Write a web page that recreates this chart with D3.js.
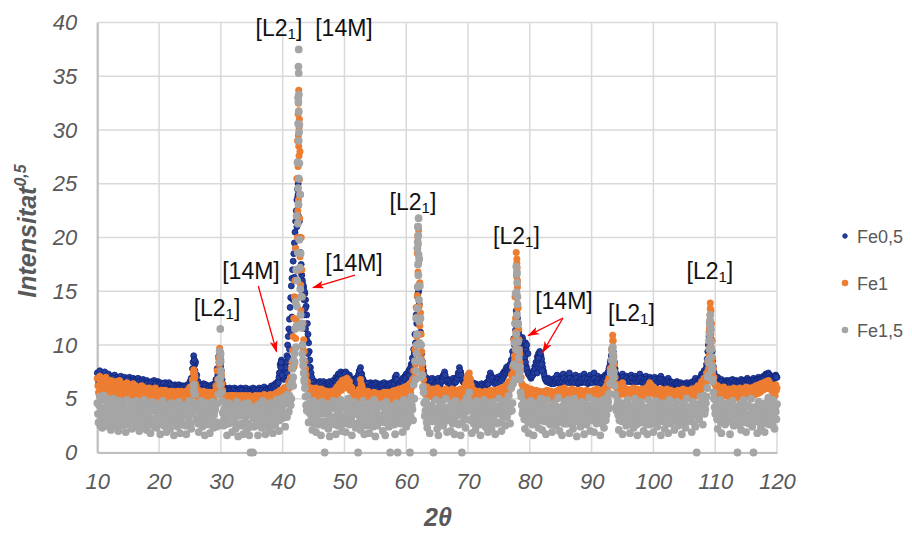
<!DOCTYPE html>
<html>
<head>
<meta charset="utf-8">
<script src="https://cdn.jsdelivr.net/npm/d3@7"></script>
<style>
  body { margin: 0; background: #fff; }
  svg { display: block; }
</style>
</head>
<body>
<svg id="chart" width="912" height="534"></svg>
<script>
// ---- axis ticks ----
const xTicks = [10, 20, 30, 40, 50, 60, 70, 80, 90, 100, 110, 120];
const yTicks = [0, 5, 10, 15, 20, 25, 30, 35, 40];
const seriesNames = ["Fe0,5", "Fe1", "Fe1,5"];

// ---- scan values (square root of intensity) ----
// "A" rows: 2θ = 10.0, 10.2, ... one row per 2°; "B" rows: the in-between steps 10.1, 10.3, ...
const fe05RowsA = [
  [7.4,6.4,7.6,6.9,6.1,7.2,7.5,6.6,7.0,7.3],
  [6.5,7.1,6.8,6.0,7.2,6.7,7.0,6.3,6.9,7.1],
  [6.8,6.2,7.0,6.6,5.9,6.9,7.0,6.4,6.7,6.9],
  [6.3,6.8,6.6,6.9,6.0,6.7,6.4,6.8,5.9,6.6],
  [6.7,6.2,6.5,5.8,6.6,6.4,6.7,6.0,6.3,6.6],
  [6.1,6.5,6.3,5.7,6.4,6.5,5.9,6.3,6.5,6.0],
  [6.3,5.8,6.2,6.3,5.6,6.1,6.3,5.9,6.2,5.7],
  [6.2,6.0,5.6,6.3,6.1,6.6,6.9,7.8,9.0,8.2],
  [6.9,6.4,6.0,6.3,5.8,6.2,6.4,5.9,6.3,6.1],
  [5.8,6.2,6.0,6.3,5.7,6.4,6.8,7.8,8.9,9.2],
  [8.4,6.8,6.1,5.8,6.0,5.6,5.9,6.0,5.5,5.9],
  [5.7,6.0,5.4,5.9,5.8,5.5,6.0,5.6,5.9,5.7],
  [6.0,5.5,5.8,5.9,5.4,5.8,6.0,5.6,5.9,5.7],
  [5.6,6.0,5.8,5.5,5.9,6.1,5.7,5.9,5.5,6.0],
  [5.9,6.2,5.8,6.1,6.4,6.0,6.6,7.0,8.2,8.6],
  [7.5,6.8,7.6,8.4,10.0,11.5,13.5,15.5,17.0,18.5],
  [20.5,22.5,24.5,23.0,20.0,17.5,16.0,15.4,14.8,13.6],
  [12.0,10.2,8.6,7.4,6.8,6.3,6.6,5.9,6.5,6.2],
  [6.6,6.0,6.4,6.6,5.8,6.3,6.5,6.1,6.6,6.4],
  [6.2,6.7,6.5,7.0,6.8,7.3,7.0,7.5,7.2,7.4],
  [7.1,7.5,7.3,6.9,7.2,6.6,6.8,6.3,6.5,6.9],
  [6.7,7.1,7.6,7.9,7.3,6.8,6.2,6.5,6.0,6.4],
  [6.3,6.5,5.9,6.4,6.2,6.5,6.0,6.4,6.3,5.9],
  [6.4,6.1,6.5,6.0,6.3,6.4,5.9,6.2,6.5,6.3],
  [6.6,7.0,7.2,6.5,6.2,6.6,6.4,6.9,6.7,7.1],
  [7.3,7.0,7.6,7.8,8.2,8.8,9.6,11.0,12.8,14.5],
  [15.0,12.5,10.0,8.5,7.6,7.0,6.7,6.9,6.4,6.8],
  [6.6,6.9,6.5,6.8,6.3,6.7,6.9,6.4,6.8,7.0],
  [7.2,7.5,6.9,6.6,6.8,6.3,6.7,6.5,6.9,6.6],
  [6.8,7.0,7.4,7.9,7.5,6.9,6.6,6.8,6.4,6.7],
  [6.5,6.9,6.6,6.3,6.5,6.1,6.4,6.0,6.3,6.2],
  [6.0,6.4,6.1,6.3,5.9,6.5,6.6,7.0,7.4,7.1],
  [6.8,6.5,6.9,6.6,7.0,6.7,7.1,6.8,7.3,7.5],
  [7.6,7.9,8.0,7.7,8.2,8.6,9.4,10.6,12.0,13.2],
  [12.5,11.2,10.4,10.2,10.7,9.8,8.8,8.0,7.6,7.3],
  [7.2,6.9,7.4,7.6,8.0,8.4,8.9,9.2,9.4,9.0],
  [8.3,7.6,7.0,6.8,6.6,6.9,6.5,6.8,6.4,6.7],
  [6.9,6.5,7.2,6.7,6.4,7.0,6.8,7.3,6.6,6.9],
  [7.1,6.6,7.4,6.9,6.5,7.0,6.7,7.2,6.8,6.4],
  [6.8,7.1,6.5,6.9,7.3,6.6,7.0,6.4,6.8,7.2],
  [6.6,7.0,7.4,6.8,6.5,7.1,6.7,6.9,6.4,7.0],
  [6.9,7.2,7.0,7.4,7.8,8.4,9.0,9.6,8.8,7.8],
  [7.2,6.8,7.1,6.7,7.0,7.3,6.9,6.6,7.1,6.8],
  [7.0,6.6,7.2,6.9,6.5,7.1,6.8,7.0,6.6,7.3],
  [6.9,6.5,7.0,6.7,7.1,6.8,6.6,7.0,6.7,6.9],
  [6.6,7.0,6.8,6.5,6.9,6.7,7.1,6.6,6.8,6.4],
  [6.7,6.5,6.9,6.3,6.6,6.4,6.2,6.5,6.3,6.6],
  [6.4,6.1,6.5,6.3,6.0,6.4,6.2,6.5,6.1,6.3],
  [6.5,6.2,6.6,6.4,6.9,6.3,6.7,6.5,7.0,7.3],
  [7.1,7.6,7.4,8.2,9.4,10.8,12.0,10.5,8.6,7.5],
  [6.9,6.5,7.0,6.6,6.4,6.8,6.5,6.2,6.6,6.7],
  [6.4,6.7,6.3,6.6,6.8,6.2,6.5,6.7,6.3,6.6],
  [6.5,6.8,6.4,6.7,6.3,6.6,6.9,6.5,6.7,6.4],
  [6.6,6.9,6.5,6.8,6.6,7.0,6.7,6.9,6.8,7.1],
  [7.0,7.3,7.1,7.4,7.2,6.9,7.1,6.8,7.0,7.2],
  [7.0]
];
const fe05RowsB = [
  [6.8,7.1,6.5,7.0,6.6,6.9,6.3,6.8,6.6,6.9],
  [6.9,6.4,6.7,6.9,6.3,6.6,6.8,6.5,6.7,6.4],
  [6.5,6.7,6.3,6.6,6.8,6.4,6.6,6.2,6.5,6.7],
  [6.6,6.3,6.5,6.2,6.6,6.4,6.1,6.5,6.3,6.4],
  [6.4,6.1,6.3,6.5,6.0,6.4,6.2,6.4,6.1,6.3],
  [6.3,6.0,6.2,6.4,6.1,6.0,6.3,6.1,6.2,6.3],
  [6.0,6.2,5.9,6.1,6.0,5.8,6.1,6.0,5.9,6.1],
  [5.9,6.1,5.8,6.0,6.2,6.3,6.6,7.0,8.6,8.4],
  [7.2,6.6,6.1,6.0,6.2,5.9,6.1,6.2,6.0,5.9],
  [6.0,5.8,6.1,5.9,6.1,6.0,6.3,7.2,8.4,9.0],
  [7.6,6.4,5.9,5.7,5.8,5.7,5.6,5.8,5.7,5.6],
  [5.8,5.6,5.7,5.5,5.7,5.8,5.6,5.8,5.5,5.7],
  [5.6,5.7,5.5,5.7,5.6,5.5,5.7,5.8,5.6,5.5],
  [5.8,5.6,5.7,5.8,5.6,5.7,5.8,5.6,5.8,5.7],
  [6.0,5.8,6.0,6.2,5.9,6.3,6.5,7.4,8.0,8.3],
  [7.0,7.2,7.9,9.0,10.8,12.4,14.4,16.2,17.8,19.5],
  [21.5,23.5,24.0,21.5,18.6,16.5,15.6,15.0,14.2,12.8],
  [11.0,9.4,7.9,7.0,6.5,6.2,6.0,6.3,6.1,6.4],
  [6.2,6.4,6.1,6.3,6.2,6.0,6.3,6.4,6.2,6.1],
  [6.4,6.2,6.6,6.5,6.8,6.9,7.2,6.9,7.1,6.8],
  [7.3,7.0,7.1,6.8,6.9,6.4,6.5,6.6,6.2,6.5],
  [6.8,7.3,7.6,7.2,6.9,6.5,6.3,6.2,6.4,6.1],
  [6.1,6.2,6.0,6.2,6.1,6.3,6.1,6.0,6.2,6.1],
  [6.2,6.0,6.3,6.1,6.0,6.2,6.1,6.3,6.0,6.2],
  [6.4,6.7,6.8,6.3,6.4,6.3,6.6,6.5,6.8,6.9],
  [7.1,7.3,7.2,7.6,8.0,8.4,9.2,10.2,12.0,14.8],
  [13.8,11.2,9.2,8.0,7.2,6.8,6.5,6.6,6.3,6.5],
  [6.5,6.6,6.3,6.5,6.4,6.5,6.6,6.3,6.6,6.7],
  [7.0,7.2,6.7,6.5,6.6,6.4,6.5,6.3,6.6,6.5],
  [6.6,6.9,7.2,7.6,7.2,6.7,6.5,6.6,6.3,6.5],
  [6.4,6.6,6.4,6.2,6.3,6.0,6.2,5.9,6.1,6.0],
  [6.1,6.2,6.0,6.1,6.0,6.3,6.4,6.8,7.1,6.9],
  [6.6,6.4,6.6,6.5,6.8,6.6,6.8,6.7,7.0,7.2],
  [7.4,7.6,7.7,7.6,7.9,8.2,9.0,10.0,11.4,13.0],
  [12.0,10.8,10.0,10.4,10.4,9.4,8.4,7.8,7.4,7.2],
  [7.0,7.1,7.2,7.4,7.8,8.2,8.6,9.0,9.2,8.7],
  [7.9,7.3,6.8,6.6,6.7,6.5,6.6,6.4,6.5,6.4],
  [6.6,6.7,6.8,6.5,6.6,6.8,6.6,6.9,6.5,6.7],
  [6.8,6.5,6.9,6.6,6.7,6.8,6.5,6.9,6.6,6.5],
  [6.6,6.8,6.6,6.7,6.9,6.5,6.8,6.5,6.6,6.8],
  [6.5,6.8,6.9,6.6,6.6,6.8,6.5,6.7,6.6,6.8],
  [6.8,7.0,7.1,7.5,8.0,8.6,9.2,9.4,8.4,7.4],
  [7.0,6.9,6.8,6.8,6.9,7.0,6.7,6.8,6.9,6.6],
  [6.8,6.7,6.9,6.6,6.8,6.8,6.6,6.8,6.7,6.9],
  [6.7,6.6,6.8,6.5,6.8,6.6,6.7,6.8,6.5,6.7],
  [6.7,6.8,6.5,6.7,6.6,6.8,6.7,6.5,6.6,6.5],
  [6.4,6.6,6.5,6.4,6.3,6.5,6.3,6.4,6.4,6.3],
  [6.2,6.3,6.2,6.1,6.3,6.2,6.3,6.2,6.2,6.1],
  [6.3,6.4,6.3,6.6,6.5,6.4,6.5,6.7,6.9,7.1],
  [7.3,7.4,7.8,8.7,10.0,11.6,11.4,9.4,8.0,7.2],
  [6.7,6.7,6.6,6.5,6.6,6.6,6.4,6.4,6.5,6.5],
  [6.5,6.5,6.4,6.7,6.5,6.4,6.6,6.5,6.4,6.5],
  [6.6,6.5,6.6,6.5,6.5,6.7,6.7,6.6,6.5,6.6],
  [6.7,6.7,6.6,6.7,6.8,6.8,6.8,6.7,6.9,6.9],
  [7.1,7.2,7.2,7.2,7.0,7.0,6.9,6.9,7.1,7.0]
];

const fe1RowsA = [
  [6.9,5.6,7.1,6.2,5.2,6.8,6.0,7.0,5.4,6.6],
  [6.1,6.7,5.3,6.4,5.8,6.6,5.0,6.3,6.7,5.6],
  [6.4,5.5,6.2,4.9,6.5,5.9,6.3,5.2,6.1,6.4],
  [5.4,6.2,5.8,4.8,6.1,5.6,6.2,5.1,5.9,6.0],
  [5.8,5.0,6.0,5.5,4.7,5.9,5.3,6.0,5.6,4.9],
  [5.7,5.2,5.8,4.6,5.5,5.8,5.0,5.6,4.8,5.7],
  [5.3,5.7,4.9,5.6,5.1,5.7,4.6,5.5,5.7,5.0],
  [5.6,5.1,5.7,4.8,5.9,6.1,5.4,6.8,7.7,7.0],
  [6.2,5.5,5.8,4.9,5.6,5.3,5.7,4.7,5.5,5.6],
  [5.0,5.6,4.8,5.5,5.2,5.7,6.2,7.6,8.8,9.7],
  [8.6,6.4,5.4,5.1,5.3,4.6,5.2,5.3,4.8,5.3],
  [5.0,5.3,4.5,5.2,5.3,4.7,5.1,5.3,4.9,5.2],
  [5.3,4.6,5.1,5.3,4.8,5.2,5.0,4.5,5.3,5.1],
  [4.8,5.3,5.0,4.6,5.2,5.4,4.9,5.3,4.7,5.2],
  [5.4,4.8,5.3,5.0,5.5,4.9,5.6,5.2,5.8,5.3],
  [5.7,6.0,5.3,6.1,5.8,6.6,6.4,7.8,9.5,12.5],
  [16.0,22.0,29.0,33.7,28.0,20.0,14.5,10.5,8.5,7.2],
  [6.6,6.1,5.6,6.0,5.4,5.9,5.5,6.0,5.2,5.8],
  [5.5,5.9,5.1,5.8,5.6,5.0,5.7,5.6,4.9,5.6],
  [5.7,5.2,5.8,5.5,6.1,5.9,6.4,6.2,6.7,6.5],
  [6.8,6.4,6.9,6.3,6.6,5.8,6.0,5.3,5.6,5.4],
  [5.2,5.6,5.9,6.8,6.2,5.5,5.0,5.6,5.3,5.7],
  [5.4,4.8,5.5,5.2,5.6,4.9,5.4,5.5,5.0,5.3],
  [5.5,5.1,5.6,4.7,5.4,5.6,5.2,5.5,4.9,5.7],
  [5.4,5.8,5.2,5.6,5.9,5.3,5.8,6.0,5.5,6.1],
  [5.7,6.2,5.9,6.4,6.0,6.8,7.6,9.6,13.5,18.5],
  [20.7,15.8,11.0,8.2,6.8,6.0,5.7,6.1,5.4,5.8],
  [5.6,5.9,5.2,5.7,5.5,6.0,5.3,5.8,5.6,5.1],
  [5.8,5.4,5.9,5.6,5.1,5.7,5.5,5.9,5.2,5.6],
  [5.5,5.8,5.3,5.7,5.9,5.4,5.6,6.0,6.4,6.9],
  [7.2,7.4,6.8,6.0,5.5,5.8,5.2,5.6,5.4,5.7],
  [5.3,5.6,5.1,5.5,5.7,5.2,5.6,5.4,5.8,5.3],
  [5.6,5.4,5.8,5.2,5.7,5.9,5.5,6.0,5.7,6.1],
  [5.9,6.3,6.0,6.6,6.4,7.2,8.0,10.5,14.5,18.6],
  [16.0,11.5,8.4,7.0,6.3,6.0,5.6,6.1,5.4,5.8],
  [5.5,5.9,5.2,5.7,5.4,5.8,5.1,5.6,5.7,5.3],
  [5.6,5.2,5.7,5.4,5.8,5.0,5.5,5.7,5.3,5.6],
  [5.4,5.7,5.2,5.8,5.5,5.9,5.3,5.7,6.0,5.6],
  [5.8,5.3,5.7,5.5,5.9,5.2,5.6,5.8,5.4,5.7],
  [5.5,5.8,5.3,5.7,5.1,5.6,5.8,5.4,5.7,5.5],
  [5.6,5.3,5.8,5.5,5.9,5.4,5.7,5.2,5.8,5.6],
  [5.7,6.0,6.2,6.6,6.9,7.8,9.6,10.9,9.0,7.0],
  [6.2,5.8,6.3,5.7,6.0,6.5,6.1,5.6,5.9,5.5],
  [5.8,5.4,5.9,5.6,6.0,5.3,5.7,5.9,5.5,5.8],
  [5.6,5.9,5.4,5.8,6.0,5.7,6.2,6.5,6.3,5.9],
  [6.1,5.7,5.9,5.5,5.8,5.4,5.9,5.6,5.3,5.8],
  [5.5,5.9,5.6,5.3,5.8,5.5,5.1,5.7,5.4,5.6],
  [5.8,5.3,5.7,5.5,5.9,5.2,5.6,5.8,5.4,5.7],
  [5.5,5.9,5.4,5.8,6.0,5.6,6.2,5.9,6.3,6.6],
  [6.4,6.9,6.7,7.4,8.4,11.2,13.9,12.0,8.8,7.0],
  [6.3,5.9,6.2,5.7,6.0,5.5,5.9,6.1,5.6,5.8],
  [5.5,5.9,5.7,5.3,5.8,6.0,5.6,5.4,5.9,5.7],
  [6.0,5.6,5.9,5.4,5.8,6.1,5.7,5.5,6.0,5.8],
  [5.6,6.1,5.8,6.2,5.9,6.3,6.0,6.4,6.2,6.5],
  [6.3,6.6,6.4,6.7,6.5,6.2,5.8,6.1,5.7,6.3],
  [6.0]
];
const fe1RowsB = [
  [6.2,5.4,6.6,5.8,5.1,6.3,5.7,6.5,5.2,6.0],
  [5.5,6.2,5.0,5.9,6.4,5.3,6.0,5.6,5.2,6.1],
  [5.8,5.1,6.0,5.5,5.2,6.1,5.4,5.8,5.0,5.7],
  [5.6,5.0,5.4,5.9,5.2,5.7,4.9,5.5,5.3,5.6],
  [5.3,5.6,4.9,5.4,5.7,5.1,5.5,4.8,5.3,5.6],
  [5.2,4.8,5.4,5.1,4.9,5.3,5.5,4.7,5.2,5.0],
  [4.9,5.3,5.1,4.7,5.4,5.0,5.2,4.8,5.3,5.1],
  [5.1,4.8,5.3,5.0,5.4,5.6,5.2,6.3,7.5,6.4],
  [5.4,5.0,5.2,5.4,4.8,5.1,5.3,4.9,5.2,5.0],
  [5.2,4.8,5.3,5.0,4.9,5.4,5.6,6.8,8.4,9.3],
  [7.2,5.8,5.0,4.7,5.0,4.9,4.6,5.0,4.8,4.5],
  [4.8,4.6,5.0,4.7,4.9,4.5,4.8,5.0,4.6,4.9],
  [4.7,5.0,4.8,4.5,4.9,4.7,5.0,4.8,4.6,4.9],
  [5.0,4.7,4.9,5.1,4.6,4.8,5.0,4.7,4.9,4.8],
  [4.9,5.1,4.7,5.2,4.9,5.3,5.0,5.4,5.5,5.1],
  [5.4,5.6,5.7,5.5,6.2,6.0,7.0,8.4,10.8,14.5],
  [19.0,25.5,31.5,31.0,24.0,17.0,12.0,9.4,7.8,6.6],
  [6.0,5.5,5.7,5.2,5.6,5.3,5.7,5.1,5.5,5.4],
  [5.2,5.5,5.4,5.0,5.3,5.5,5.1,5.3,5.4,5.0],
  [5.3,5.5,5.1,5.6,5.4,5.7,5.9,5.8,6.2,6.0],
  [6.3,6.5,6.0,6.4,5.8,6.1,5.6,5.4,5.1,5.3],
  [5.0,5.4,5.7,6.4,6.0,5.2,5.3,5.1,5.4,5.0],
  [5.1,5.3,4.9,5.2,5.0,5.3,4.8,5.1,5.3,4.9],
  [5.2,4.9,5.3,5.0,5.2,4.8,5.3,5.0,5.2,5.1],
  [5.1,5.3,5.5,5.0,5.4,5.2,5.5,5.3,5.7,5.4],
  [5.6,5.3,5.8,5.6,6.2,6.4,7.0,8.4,11.0,20.0],
  [18.0,13.0,9.4,7.2,6.2,5.4,5.5,5.2,5.6,5.3],
  [5.2,5.4,5.0,5.3,5.1,5.5,5.2,5.0,5.4,5.3],
  [5.4,5.1,5.3,5.0,5.4,5.2,5.3,5.1,5.5,5.2],
  [5.2,5.4,5.0,5.3,5.5,5.2,5.4,5.6,6.0,6.6],
  [7.3,6.9,6.3,5.6,5.2,5.4,5.1,5.3,5.0,5.3],
  [5.0,5.3,5.2,5.0,5.4,5.1,5.3,5.0,5.4,5.2],
  [5.3,5.0,5.4,5.3,5.1,5.5,5.2,5.6,5.4,5.5],
  [5.6,5.5,5.9,5.8,6.2,6.6,7.4,9.0,12.5,17.6],
  [13.5,9.6,7.6,6.4,5.9,5.5,5.7,5.2,5.5,5.3],
  [5.2,5.4,5.0,5.3,5.1,5.4,5.2,5.0,5.3,5.1],
  [5.3,5.0,5.4,5.1,5.3,5.2,5.0,5.4,5.1,5.3],
  [5.1,5.4,5.0,5.3,5.2,5.5,5.1,5.4,5.2,5.3],
  [5.4,5.1,5.3,5.2,5.5,5.0,5.4,5.2,5.1,5.3],
  [5.2,5.4,5.1,5.3,5.0,5.4,5.2,5.1,5.3,5.2],
  [5.3,5.1,5.4,5.2,5.5,5.1,5.3,5.0,5.4,5.2],
  [5.4,5.6,5.9,6.2,6.6,7.2,8.6,10.4,8.2,6.4],
  [5.6,5.5,5.8,5.4,5.7,6.0,5.6,5.4,5.5,5.2],
  [5.4,5.2,5.5,5.3,5.6,5.1,5.4,5.5,5.2,5.4],
  [5.3,5.5,5.2,5.4,5.6,5.4,5.8,6.0,5.8,5.5],
  [5.6,5.3,5.5,5.2,5.4,5.1,5.5,5.3,5.0,5.4],
  [5.2,5.5,5.2,5.0,5.4,5.1,5.0,5.3,5.1,5.2],
  [5.3,5.1,5.4,5.2,5.5,5.0,5.3,5.4,5.1,5.3],
  [5.2,5.5,5.1,5.4,5.6,5.3,5.7,5.5,5.9,6.0],
  [6.0,6.3,6.5,6.9,7.6,9.8,13.2,10.4,7.8,6.4],
  [5.8,5.5,5.7,5.3,5.6,5.2,5.5,5.6,5.3,5.4],
  [5.2,5.5,5.3,5.0,5.4,5.6,5.2,5.1,5.5,5.3],
  [5.5,5.2,5.4,5.1,5.4,5.6,5.3,5.2,5.5,5.4],
  [5.3,5.6,5.4,5.7,5.5,5.8,5.6,5.9,5.8,6.0],
  [5.9,6.1,6.0,6.2,6.0,5.8,5.4,5.7,5.3,5.8]
];

const fe15RowsA = [
  [4.6,2.8,5.2,3.4,2.3,4.9,3.9,2.6,5.0,3.1],
  [4.2,2.1,3.6,5.0,2.7,4.4,3.2,2.0,4.8,3.7],
  [2.5,4.6,3.3,1.9,4.9,2.9,4.1,3.5,2.2,4.7],
  [3.8,2.4,4.8,3.0,2.0,4.4,3.6,2.6,4.9,3.2],
  [2.1,4.5,3.4,1.8,4.7,2.8,3.9,4.6,2.3,3.5],
  [4.4,1.7,3.1,4.8,2.5,3.8,1.9,4.3,3.3,2.2],
  [4.6,3.0,1.6,4.1,3.6,2.4,4.7,1.8,3.2,4.4],
  [2.6,3.9,1.7,4.5,3.0,4.2,2.2,4.6,6.3,5.4],
  [3.1,4.5,1.9,3.6,4.8,2.4,3.3,1.6,4.6,2.9],
  [4.2,1.8,3.5,4.7,2.3,3.9,4.5,2.8,5.4,9.4],
  [7.6,4.8,2.5,4.1,3.2,1.6,4.6,2.9,3.7,1.9],
  [4.4,3.0,2.2,4.7,1.5,3.6,4.2,2.7,1.7,4.5],
  [3.3,2.1,4.6,1.6,0,3.8,0,2.4,4.3,3.0],
  [1.6,4.5,3.4,2.3,4.8,2.9,1.7,4.1,3.6,2.2],
  [4.6,3.1,1.8,4.3,2.6,4.9,3.5,2.0,4.4,5.0],
  [3.2,5.1,2.4,4.6,5.4,3.8,6.2,5.0,7.8,8.6],
  [11.5,17.0,27.0,37.5,24.0,14.5,10.0,7.4,6.0,4.4],
  [5.3,2.8,4.6,3.5,2.1,4.8,3.0,1.9,4.4,2.6],
  [3.9,1.6,4.7,2.9,0,3.6,4.5,2.2,1.5,4.1],
  [2.7,4.8,3.3,1.7,4.4,2.5,3.8,4.9,2.0,3.4],
  [4.6,1.9,3.5,5.0,2.6,4.2,1.6,3.9,4.7,2.3],
  [3.6,0,4.4,2.1,3.0,4.8,1.7,3.8,2.5,4.3],
  [1.8,4.6,3.2,2.4,4.9,1.5,3.7,4.2,2.8,3.4],
  [4.5,2.0,3.6,1.6,4.7,3.1,2.4,0,4.3,2.6],
  [3.8,1.7,4.6,0,2.9,4.4,3.3,1.9,4.9,3.6],
  [2.4,4.7,3.5,0,5.2,4.0,6.3,8.5,12.5,19.0],
  [21.8,15.5,10.0,7.2,5.6,3.4,4.8,2.3,3.9,1.8],
  [4.4,2.9,0,3.7,4.9,2.2,1.6,4.3,3.1,4.7],
  [2.5,3.8,5.0,1.9,4.1,3.3,2.0,4.6,3.6,1.7],
  [4.8,2.7,3.9,4.4,1.6,0,3.5,4.7,2.3,5.1],
  [4.2,5.6,3.0,1.8,4.5,3.4,2.1,4.8,3.7,2.6],
  [1.6,4.4,3.2,4.9,2.4,3.8,1.9,4.6,3.0,2.2],
  [4.7,3.5,1.7,4.3,2.8,5.0,3.6,2.0,4.5,3.2],
  [2.5,4.8,3.9,5.3,2.7,6.0,4.6,8.2,12.0,17.3],
  [14.5,9.5,6.8,5.2,3.6,4.7,2.2,3.9,4.5,1.8],
  [3.4,4.8,2.6,1.6,4.2,3.0,4.6,2.3,3.7,5.0],
  [2.1,4.4,3.3,1.7,4.9,2.8,3.6,4.3,1.9,3.1],
  [4.6,2.5,3.8,5.1,2.0,4.0,1.6,3.5,4.7,2.7],
  [3.2,4.9,1.8,4.3,3.6,2.2,5.0,2.9,1.5,4.4],
  [3.8,2.4,4.7,3.1,1.7,4.5,2.6,3.9,5.1,2.0],
  [4.2,3.4,1.9,4.8,2.7,3.7,4.4,1.6,3.0,4.9],
  [2.3,4.5,3.5,5.2,4.1,6.4,8.6,9.8,7.5,5.4],
  [3.9,4.8,2.1,3.6,4.6,1.7,4.1,3.2,2.5,4.9],
  [3.0,1.8,4.4,3.7,2.3,5.0,3.4,1.6,4.5,2.8],
  [4.7,3.3,2.0,4.2,3.8,1.7,4.9,2.6,3.5,4.4],
  [1.9,3.6,4.8,2.4,4.1,3.0,1.6,4.6,3.3,2.2],
  [4.5,3.8,1.8,4.9,2.7,3.5,4.3,2.1,3.9,4.7],
  [2.5,4.0,3.1,1.7,4.6,3.6,2.3,5.0,2.9,4.2],
  [3.4,1.9,4.7,3.8,2.4,0,4.5,3.1,5.2,4.3],
  [2.6,5.3,4.0,5.2,7.0,10.4,12.8,9.6,6.8,5.0],
  [3.6,4.7,2.2,3.9,4.9,1.8,4.3,3.2,2.6,4.6],
  [3.0,4.4,1.7,3.7,4.8,2.5,3.4,4.1,0,2.8],
  [4.5,2.1,3.8,4.9,3.2,1.9,4.4,2.7,3.6,5.0],
  [2.4,0,4.2,3.3,1.8,4.7,3.9,2.3,4.5,3.1],
  [1.9,4.6,3.5,5.1,2.6,4.2,3.0,4.9,2.2,3.8],
  [4.5]
];
const fe15RowsB = [
  [3.6,4.4,2.5,4.0,3.2,5.3,2.9,4.3,3.5,2.4],
  [3.3,4.7,2.9,3.9,4.6,2.4,3.8,4.5,3.0,2.6],
  [3.9,2.8,4.2,3.6,2.6,4.0,3.1,4.6,3.7,2.9],
  [4.3,3.2,2.9,4.1,3.5,2.3,4.5,3.3,3.9,2.7],
  [3.7,2.9,4.3,2.6,3.9,4.4,2.4,3.2,4.1,2.8],
  [3.4,4.1,2.7,3.6,4.5,2.9,3.7,2.5,4.0,3.6],
  [2.8,3.9,4.5,2.7,3.2,4.2,3.0,3.8,2.6,3.5],
  [3.7,2.5,4.0,3.3,4.8,2.6,3.6,3.9,5.6,4.4],
  [4.1,2.7,3.6,4.2,2.9,3.8,4.4,2.6,3.4,3.9],
  [2.6,3.8,4.3,2.9,3.5,4.1,2.4,4.6,6.8,9.0],
  [5.6,3.7,3.1,2.6,4.3,3.5,2.7,4.0,2.8,3.6],
  [2.9,3.9,4.3,2.6,3.4,4.0,2.5,3.7,4.1,2.8],
  [3.8,4.2,2.7,3.5,2.4,4.1,3.2,3.9,2.6,3.6],
  [3.9,2.6,4.1,3.7,2.8,4.2,3.4,2.5,3.8,4.3],
  [2.7,4.0,3.6,2.5,4.1,3.3,4.5,3.0,3.7,4.2],
  [4.4,3.6,4.9,3.3,4.6,5.3,4.4,6.6,6.2,9.2],
  [14.0,22.0,33.0,30.5,18.5,12.0,8.6,6.6,5.2,3.9],
  [4.5,3.7,2.9,4.2,3.8,2.7,4.1,3.4,2.9,4.0],
  [2.8,3.6,4.0,2.5,3.8,4.3,2.9,3.5,4.4,3.1],
  [4.1,3.0,2.6,4.2,3.6,3.9,2.8,3.3,4.3,2.7],
  [3.3,4.1,2.8,3.7,4.4,3.0,3.5,2.6,3.8,4.2],
  [2.7,3.8,3.3,4.5,2.6,3.5,4.1,2.9,3.7,3.1],
  [4.0,2.7,3.9,4.3,3.1,3.6,2.5,3.2,4.4,2.9],
  [3.2,4.2,2.8,3.9,3.5,2.6,4.1,3.4,2.9,4.0],
  [2.6,3.9,3.3,4.3,3.6,2.7,4.0,3.7,2.9,4.4],
  [3.9,2.8,4.1,3.4,4.4,3.0,5.0,6.8,10.0,21.0],
  [18.0,12.5,8.4,6.1,4.6,3.9,2.8,3.6,4.2,3.0],
  [3.5,4.2,2.9,3.8,3.3,4.0,2.7,3.7,4.3,2.6],
  [3.9,2.9,3.4,4.2,3.0,3.7,4.5,2.7,3.2,4.1],
  [3.4,4.1,2.6,3.5,3.9,2.8,4.2,3.1,3.8,4.4],
  [4.9,4.6,3.9,3.2,2.7,4.1,3.6,2.9,4.2,3.4],
  [3.7,2.8,3.9,3.5,4.2,3.0,4.0,3.3,2.7,3.8],
  [3.0,4.1,3.6,2.7,3.9,4.2,2.8,3.5,3.9,4.4],
  [3.6,3.3,4.4,3.8,4.6,3.9,6.4,10.2,14.8,16.8],
  [12.0,8.0,5.6,4.4,3.9,3.1,4.2,3.4,2.8,3.9],
  [4.1,3.2,3.8,4.3,2.7,3.6,3.9,3.0,4.4,3.3],
  [3.6,2.9,4.0,3.5,3.8,4.2,2.6,3.4,4.1,2.9],
  [3.9,3.4,2.8,4.2,3.5,3.0,4.3,2.7,3.6,4.0],
  [2.7,3.8,4.1,3.1,2.6,4.4,3.5,3.9,4.2,2.9],
  [4.2,3.1,3.6,4.0,3.3,2.8,4.1,3.4,3.7,4.4],
  [3.0,4.3,3.6,2.9,4.0,3.2,3.5,4.2,2.7,3.8],
  [3.9,3.0,4.2,4.7,5.5,7.4,9.6,8.8,6.2,4.2],
  [4.4,3.5,3.0,4.2,2.9,3.8,3.6,4.5,3.3,2.7],
  [4.1,3.7,2.8,3.4,4.3,3.1,2.6,3.9,4.0,3.5],
  [2.8,4.0,3.6,3.1,2.6,4.2,3.5,3.9,4.4,3.0],
  [4.2,2.8,3.5,3.9,3.2,4.4,3.7,2.9,3.6,4.1],
  [3.3,2.7,4.2,3.4,3.9,2.9,3.6,4.4,3.1,3.5],
  [3.8,3.3,2.7,4.1,3.5,2.9,4.3,3.6,3.9,3.2],
  [2.9,4.2,3.5,2.6,4.0,3.7,3.2,4.4,3.8,4.8],
  [4.1,3.6,4.6,6.0,8.6,12.0,11.4,8.0,5.6,4.2],
  [4.0,3.1,3.7,4.3,2.8,3.5,3.9,4.2,3.4,2.9],
  [3.7,2.9,4.0,3.3,2.7,4.2,3.8,2.6,3.6,4.1],
  [3.2,3.9,2.8,4.2,3.6,3.0,3.5,4.3,2.9,3.7],
  [4.2,3.4,2.9,3.8,4.3,3.1,2.7,3.6,4.0,3.5],
  [3.5,2.7,4.1,3.8,3.0,4.4,2.6,3.6,4.2,3.1]
];

// ---- extra readings across the steep reflections: [2θ, value] ----
const fe05Peaks = [
  [39.5,7.4],[39.7,7.9],[39.75,8.4],[39.9,7.2],[40.7,7.4],[40.9,8.8],[41.1,9.6],[41.3,11.2],
  [41.5,12.6],[41.7,14.2],[41.9,16.3],[42.1,19.0],[42.3,21.0],[42.45,23.8],[42.5,25.0],[42.55,22.0],
  [42.7,18.5],[42.9,16.8],[43.1,14.6],[43.3,13.0],[43.45,14.2],[43.5,12.8],[43.65,13.4],[43.7,11.5],
  [43.9,10.5],[44.1,9.2],[44.3,8.0],[25.5,8.4],[25.7,8.6],[25.6,7.8],[25.8,7.6],[29.85,8.8],[29.95,8.0],
  [79.1,9.8],[79.3,10.2],[79.4,9.6],[79.5,10.0],[79.7,9.2],[81.2,7.4],[81.3,8.0],[81.4,8.8],
  [81.5,8.2],[81.7,7.8],[81.9,8.2],[82.0,7.6]
];
const fe1Peaks = [
  [42.6,33.2],[42.55,32.5],[42.6,31.8],[42.65,30.2],[42.55,29.5],[42.6,28.5],[42.65,27.6],[42.5,26.6],
  [42.7,25.4],[42.55,23.5],[42.45,22.5],[42.75,21.8],[42.4,20.0],[42.8,18.2],[42.35,16.9],[42.9,15.6],
  [42.3,14.4],[42.95,13.2],[42.2,12.4],[43.1,11.6],[42.1,10.6],[43.25,9.8],[41.95,9.2],[43.4,8.6],
  [41.85,8.0],[43.6,7.6],
  [61.9,20.2],[61.95,19.4],[61.85,18.6],[62.0,17.6],[61.9,16.8],[62.05,15.6],[61.8,14.6],[62.1,13.6],
  [61.75,12.6],[62.2,11.8],[61.7,10.8],[62.3,10.0],[61.6,9.2],[62.4,8.8],[61.5,8.2],[62.5,7.7],
  [77.9,18.0],[77.95,17.2],[77.85,16.4],[78.0,15.4],[77.9,14.4],[78.05,13.4],[77.8,12.6],[78.15,12.0],
  [77.75,11.2],[78.25,10.5],[77.65,9.6],[78.35,9.2],[77.55,8.6],[78.5,8.0],[77.45,7.6],
  [93.4,10.4],[93.45,9.8],[93.35,9.2],[93.5,8.6],[93.3,8.0],[93.6,7.6],[93.2,7.2],
  [109.2,13.4],[109.15,12.8],[109.25,12.2],[109.1,11.6],[109.3,11.0],[109.05,10.4],[109.35,9.8],
  [109.0,9.0],[109.45,8.4],[108.9,7.8],[109.55,7.4],
  [29.85,9.4],[29.9,8.8],[29.75,8.2],[30.0,7.6],[25.55,7.4],[25.7,7.2],[25.5,6.6]
];
const fe15Peaks = [
  [42.55,35.9],[42.6,35.3],[42.62,33.3],[42.55,32.6],[42.6,31.7],[42.5,30.6],[42.65,29.8],[42.6,29.0],
  [42.7,26.9],[42.6,25.5],[42.5,24.6],[42.55,23.1],[42.45,21.3],[42.7,19.8],[42.45,18.6],[42.8,17.2],
  [42.35,16.0],[42.85,15.2],[42.3,13.6],[42.9,12.8],[42.25,11.8],[43.05,11.6],[42.15,9.8],[43.15,9.2],
  [41.95,8.4],[43.3,8.1],[41.7,7.0],[43.5,6.8],
  [29.9,11.5],[29.95,9.2],[29.85,8.4],[30.0,7.0],[29.9,6.3],[25.65,5.8],
  [61.9,21.0],[61.95,20.2],[61.85,19.6],[62.0,18.4],[61.9,17.5],[61.95,16.5],[61.85,15.4],[62.05,14.2],
  [61.8,13.4],[62.1,12.2],[61.75,11.0],[62.15,10.2],[61.7,9.2],[62.25,8.6],[61.6,7.6],[62.35,7.0],
  [77.9,16.6],[77.95,15.8],[77.85,14.9],[78.0,13.8],[77.9,12.8],[78.05,11.9],[77.8,11.0],[78.1,10.3],
  [77.75,9.6],[78.2,8.8],[77.7,8.0],[78.3,7.4],[77.6,6.8],
  [93.45,9.2],[93.5,8.5],[93.35,7.8],[93.55,7.0],[93.3,6.5],
  [109.15,12.3],[109.25,11.6],[109.1,11.0],[109.3,10.3],[109.05,9.6],[109.35,8.9],[109.0,8.3],
  [109.45,7.7],[108.9,7.2],[109.55,6.6]
];

// ---- phase labels (centre 2θ, baseline value) and arrows ----
const phaseLabels = [
  { phase: "L21", t: 39.4,  v: 38.74 },
  { phase: "14M", t: 49.92, v: 38.74 },
  { phase: "L21", t: 29.37, v: 12.70 },
  { phase: "14M", t: 34.87, v: 16.14 },
  { phase: "14M", t: 51.54, v: 16.88 },
  { phase: "L21", t: 61.08, v: 22.56 },
  { phase: "L21", t: 77.83, v: 19.40 },
  { phase: "14M", t: 85.52, v: 13.35 },
  { phase: "L21", t: 96.44, v: 12.23 },
  { phase: "L21", t: 109.14, v: 16.14 }
];
const arrowLines = [
  [[36.05, 15.49], [39.0, 9.38]],
  [[51.70, 16.51], [44.90, 15.33]],
  [[85.36, 12.51], [79.74, 10.87]],
  [[85.36, 12.51], [82.07, 9.32]]
];

// ---- drawing ----
const x = d3.scaleLinear().domain([10, 120]).range([97.3, 777]);
const y = d3.scaleLinear().domain([0, 40]).range([452.5, 22.5]);
const svg = d3.select("#chart");
const FONT = "'Liberation Sans', Arial, sans-serif";

const defs = svg.append("defs");
defs.append("marker")
  .attr("id", "redHead")
  .attr("viewBox", "0 0 12 8")
  .attr("refX", 11).attr("refY", 4)
  .attr("markerWidth", 12).attr("markerHeight", 8)
  .attr("markerUnits", "userSpaceOnUse")
  .attr("orient", "auto")
  .append("path")
  .attr("d", "M0,0 L12,4 L0,8 L3,4 Z")
  .attr("fill", "#ff0000");

// gridlines
const grid = svg.append("g");
grid.selectAll("line.h").data(yTicks).join("line").attr("class", "h")
  .attr("x1", x(10)).attr("x2", x(120))
  .attr("y1", d => y(d)).attr("y2", d => y(d))
  .attr("stroke", "#d9d9d9").attr("stroke-width", 1.5);
grid.selectAll("line.v").data(xTicks).join("line").attr("class", "v")
  .attr("y1", y(0)).attr("y2", y(40))
  .attr("x1", d => x(d)).attr("x2", d => x(d))
  .attr("stroke", "#d9d9d9").attr("stroke-width", 1.5);

// axes
const tickFont = g => g.attr("font-family", FONT).attr("font-size", 22).attr("font-style", "italic");
svg.append("g")
  .attr("transform", `translate(0,${y(0)})`)
  .call(d3.axisBottom(x).tickValues(xTicks).tickSize(0).tickPadding(21))
  .call(tickFont)
  .call(g => g.select(".domain").attr("stroke", "#bfbfbf").attr("stroke-width", 2))
  .call(g => g.selectAll("text").attr("fill", "#595959"));
svg.append("g")
  .attr("transform", `translate(${x(10)},0)`)
  .call(d3.axisLeft(y).tickValues(yTicks).tickSize(0).tickPadding(20))
  .call(tickFont)
  .call(g => g.select(".domain").attr("stroke", "#bfbfbf").attr("stroke-width", 2))
  .call(g => g.selectAll("text").attr("fill", "#595959"));

// axis titles
svg.append("text")
  .attr("x", 438).attr("y", 526)
  .attr("text-anchor", "middle")
  .attr("font-family", FONT)
  .attr("font-size", 25).attr("font-weight", "bold").attr("font-style", "italic")
  .attr("fill", "#595959")
  .text("2θ");
const yTitle = svg.append("text")
  .attr("transform", "translate(36,231) rotate(-90)")
  .attr("text-anchor", "middle")
  .attr("font-family", FONT)
  .attr("font-size", 25).attr("font-weight", "bold").attr("font-style", "italic")
  .attr("fill", "#595959");
yTitle.append("tspan").text("Intensitat");
yTitle.append("tspan").attr("font-size", 16).attr("dy", -10).text("0,5");

// series: two interleaved 0.2° grids plus extra readings at the reflections
function gridPoints(rows, start) {
  const pts = [];
  rows.forEach((row, r) => row.forEach((v, j) => pts.push([start + 2 * r + 0.2 * j, v])));
  return pts;
}
const seriesData = [
  gridPoints(fe05RowsA, 10).concat(gridPoints(fe05RowsB, 10.1), fe05Peaks),
  gridPoints(fe1RowsA, 10).concat(gridPoints(fe1RowsB, 10.1), fe1Peaks),
  gridPoints(fe15RowsA, 10).concat(gridPoints(fe15RowsB, 10.1), fe15Peaks)
];
const seriesStyle = [
  { r: 3.0, fill: "#24409f", stroke: "#0f2278", sw: 0.8 },
  { r: 3.5, fill: "#ed7d31", stroke: "none", sw: 0 },
  { r: 3.9, fill: "#a5a5a5", stroke: "none", sw: 0 }
];
seriesData.forEach((pts, i) => {
  const s = seriesStyle[i];
  svg.append("g").attr("class", "series")
    .selectAll("circle").data(pts).join("circle")
    .attr("cx", d => x(d[0])).attr("cy", d => y(d[1]))
    .attr("r", s.r).attr("fill", s.fill)
    .attr("stroke", s.stroke).attr("stroke-width", s.sw);
});

// phase labels
const labelG = svg.append("g")
  .attr("font-family", FONT)
  .attr("font-size", 23).attr("fill", "#111");
phaseLabels.forEach(d => {
  const t = labelG.append("text")
    .attr("x", x(d.t)).attr("y", y(d.v))
    .attr("text-anchor", "middle");
  if (d.phase === "L21") {
    t.append("tspan").text("[L2");
    t.append("tspan").attr("font-size", 15).attr("dy", 3).text("1");
    t.append("tspan").attr("dy", -3).text("]");
  } else {
    t.text("[" + d.phase + "]");
  }
});

// arrows
svg.append("g").selectAll("line").data(arrowLines).join("line")
  .attr("x1", d => x(d[0][0])).attr("y1", d => y(d[0][1]))
  .attr("x2", d => x(d[1][0])).attr("y2", d => y(d[1][1]))
  .attr("stroke", "#ff0000").attr("stroke-width", 1.3)
  .attr("marker-end", "url(#redHead)");

// legend
const legendRows = [236, 283, 330];
const legendR = [2.3, 3.3, 3.3];
const legend = svg.append("g");
seriesNames.forEach((name, i) => {
  const s = seriesStyle[i];
  legend.append("circle")
    .attr("cx", 845).attr("cy", legendRows[i]).attr("r", legendR[i])
    .attr("fill", s.fill).attr("stroke", s.stroke).attr("stroke-width", s.sw);
  legend.append("text")
    .attr("x", 857).attr("y", legendRows[i] + 6.5)
    .attr("font-family", FONT)
    .attr("font-size", 18).attr("fill", "#595959")
    .text(name);
});
</script>
</body>
</html>
